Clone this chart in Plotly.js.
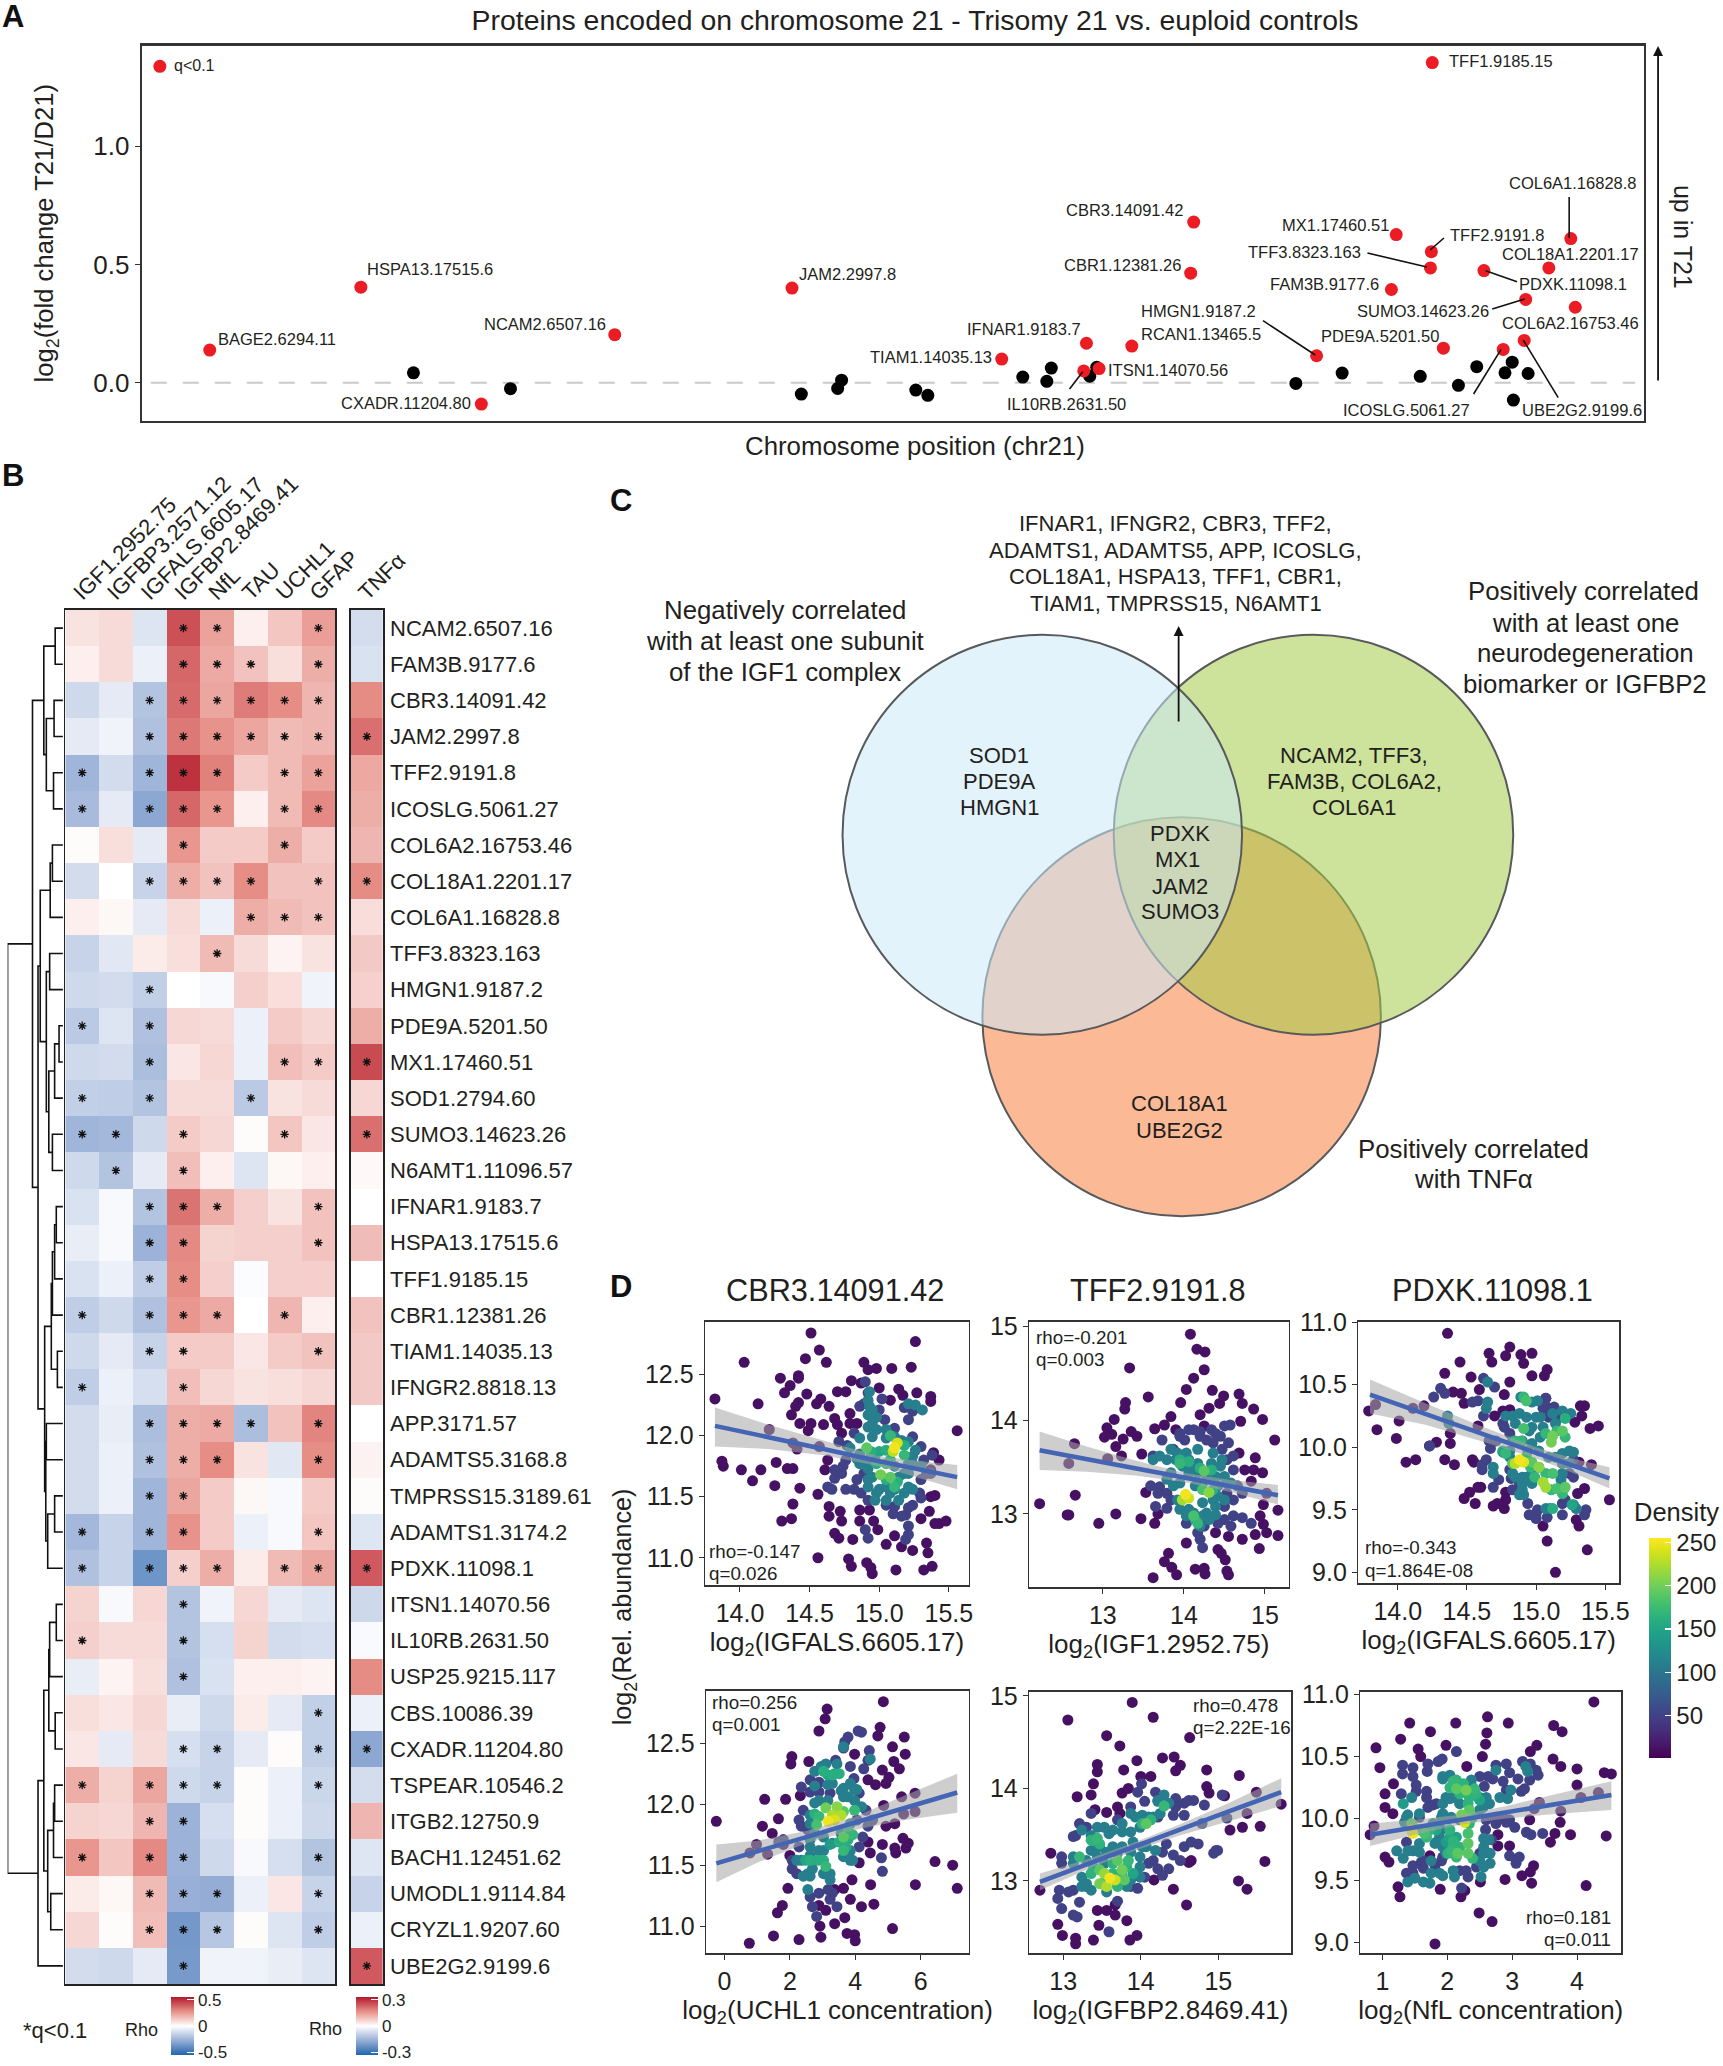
<!DOCTYPE html>
<html><head><meta charset="utf-8">
<script src="https://cdn.plot.ly/plotly-3.0.1.min.js"></script>
<style>html,body{margin:0;padding:0;background:#fff}#c{width:1723px;height:2066px}</style>
</head><body><div id="c"></div>
<script>
const W=1723,H=2066,FONT='"Liberation Sans",Arial,sans-serif',INK='#231f20';

/* ---------- Panel A: chromosome 21 proteins ---------- */
const chrSigPos=[2.26,7.29,11.30,15.74,21.64,28.62,31.44,31.35,31.86,32.95,35.01,34.91,39.10,41.75,41.59,42.95,42.92,42.89,43.32,45.31,44.67,46.06,46.01,47.56,46.83,47.71];
const chrSigFc=[0.138,0.404,-0.09,0.203,0.40,0.10,0.167,0.05,0.06,0.155,0.679,0.463,0.114,0.626,0.394,1.353,0.554,0.485,0.146,0.141,0.474,0.352,0.179,0.609,0.485,0.319];
const chrNsPos=[9.04,12.27,21.95,23.29,23.16,25.76,26.16,29.32,30.27,30.12,31.78,31.55,38.41,39.95,42.55,43.82,44.43,45.37,45.61,46.14,45.65];
const chrNsFc=[0.042,-0.025,-0.048,0.011,-0.024,-0.031,-0.053,0.024,0.062,0.006,0.065,0.028,-0.003,0.041,0.027,-0.011,0.068,0.042,0.087,0.039,-0.073];
const chrLabels=[
['BAGE2.6294.11',216,339,'left'],['HSPA13.17515.6',365.6,269,'left'],['NCAM2.6507.16',609,324,'right'],['CXADR.11204.80',473.5,403,'right'],['JAM2.2997.8',798,274,'left'],
['TFF1.9185.15',1449,60.7,'left'],['COL6A1.16828.8',1509,183,'left'],['CBR3.14091.42',1186,210,'right'],['MX1.17460.51',1393,225,'right'],['TFF2.9191.8',1450,235,'left'],
['TFF3.8323.163',1365,252,'right'],['COL18A1.2201.17',1502,253.7,'left'],['CBR1.12381.26',1184,265,'right'],['PDXK.11098.1',1519,283.7,'left'],['FAM3B.9177.6',1383,284,'right'],
['HMGN1.9187.2',1259,311,'right'],['SUMO3.14623.26',1493,311,'right'],['IFNAR1.9183.7',1084,328.7,'right'],['RCAN1.13465.5',1140,334,'left'],['COL6A2.16753.46',1502,322.7,'left'],
['PDE9A.5201.50',1442.5,336,'right'],['TIAM1.14035.13',995,356.7,'right'],['ITSN1.14070.56',1107,370,'left'],['IL10RB.2631.50',1006,404,'left'],['ICOSLG.5061.27',1343,410,'left'],['UBE2G2.9199.6',1522,410,'left']];
const chrLeaders=[[1571,197,1571,238],[1445.6,238,1431.8,250],[1369,253,1428.5,267],[1487.4,270.7,1518.8,281.7],[1494,309,1526.5,299],[1264.5,320.7,1316.8,355],[1070.8,389,1084,371.7],[1475.3,394,1502.8,349.3],[1560,397.7,1525,340]];

/* ---------- Panel B: correlation heatmap ---------- */
const markers=['IGF1.2952.75','IGFBP3.2571.12','IGFALS.6605.17','IGFBP2.8469.41','NfL','TAU','UCHL1','GFAP'];
const proteins=['NCAM2.6507.16','FAM3B.9177.6','CBR3.14091.42','JAM2.2997.8','TFF2.9191.8','ICOSLG.5061.27','COL6A2.16753.46','COL18A1.2201.17','COL6A1.16828.8','TFF3.8323.163','HMGN1.9187.2','PDE9A.5201.50','MX1.17460.51','SOD1.2794.60','SUMO3.14623.26','N6AMT1.11096.57','IFNAR1.9183.7','HSPA13.17515.6','TFF1.9185.15','CBR1.12381.26','TIAM1.14035.13','IFNGR2.8818.13','APP.3171.57','ADAMTS5.3168.8','TMPRSS15.3189.61','ADAMTS1.3174.2','PDXK.11098.1','ITSN1.14070.56','IL10RB.2631.50','USP25.9215.117','CBS.10086.39','CXADR.11204.80','TSPEAR.10546.2','ITGB2.12750.9','BACH1.12451.62','UMODL1.9114.84','CRYZL1.9207.60','UBE2G2.9199.6'];
const rho=[
[.07,.09,-.09,.42,.23,.04,.14,.24],[.04,.09,-.05,.37,.21,.15,.08,.2],[-.13,-.07,-.2,.36,.22,.32,.28,.18],[-.07,-.04,-.21,.33,.27,.22,.17,.18],[-.25,-.12,-.25,.49,.31,.13,.17,.23],[-.23,-.07,-.3,.37,.26,.04,.17,.29],
[.01,.08,-.07,.26,.13,.13,.2,.13],[-.12,0,-.15,.2,.15,.28,.15,.15],[.04,.02,-.07,.09,-.05,.2,.17,.15],[-.15,-.08,.05,.08,.17,.09,.03,.07],[-.13,-.12,-.16,0,-.02,.12,.08,-.04],[-.18,-.09,-.21,.1,.09,-.05,.13,.1],
[-.13,-.12,-.22,.06,.1,-.05,.16,.13],[-.16,-.17,-.2,.09,.09,-.18,.07,.09],[-.25,-.24,-.13,.13,.1,.01,.14,.06],[-.13,-.2,-.07,.16,.04,-.09,.02,.04],[-.1,-.02,-.2,.34,.2,.12,.07,.15],[-.06,-.02,-.26,.29,.11,.12,.12,.15],
[-.1,-.05,-.17,.28,.12,-.01,.12,.12],[-.17,-.13,-.21,.26,.21,0,.18,.04],[-.13,-.07,-.15,.13,.13,.06,.13,.15],[-.17,-.05,-.11,.16,.1,.07,.08,.1],[-.12,-.06,-.22,.2,.21,-.22,.15,.3],[-.12,-.05,-.21,.2,.28,.07,-.08,.28],
[-.12,-.05,-.25,.22,.13,.02,-.02,.13],[-.24,-.15,-.25,.27,.13,-.05,-.02,.14],[-.21,-.15,-.37,.12,.2,.05,.17,.22],[.11,-.02,.1,-.2,-.04,.1,-.07,-.09],[.12,.09,.09,-.2,-.11,.11,-.12,-.11],[-.06,.03,.08,-.21,-.1,.04,.04,.03],
[.08,.06,.1,-.06,-.13,.05,-.07,-.16],[.06,-.07,.09,-.11,-.15,-.07,.01,-.16],[.2,.11,.22,-.13,-.15,.01,-.05,-.14],[.11,.1,.18,-.26,-.11,.01,-.05,-.13],[.26,.14,.29,-.26,-.13,-.02,-.11,-.2],[.05,.02,.17,-.27,-.28,-.05,.06,-.15],
[.1,.01,.16,-.36,-.19,.01,-.09,-.17],[-.12,-.13,-.07,-.35,-.04,-.04,-.06,-.09]];
const rhoTnf=[-.07,-.06,.17,.21,.13,.12,.11,.17,.05,.08,.07,.12,.26,.06,.21,.01,0,.1,0,.09,.08,.08,0,.02,.005,-.05,.24,-.08,-.01,.17,-.03,-.18,-.07,.11,-.05,-.09,-.03,.24];
const sigStars=['...**..*','...***.*','..******','..******','*.***.**','*.***.**','...*..*.','..****.*','.....***','....*...','..*.....','*.*.....','..*...**','*.*..*..','**.*..*.','.*.*....','..***..*','..**...*','..**....','*.***.*.','..**...*','*..*....','..****.*','..***..*','..**....','*.**...*','*.***.**','...*....','*..*....','...*....','.......*','...**..*','*.***..*','..**....','*.**...*','..***..*','..***..*','...*....'];
const tnfStars=[3,7,12,14,26,31,37];
// dendrogram: [height, left, right]; leaves are row indices
const dendroTree=[1,
 [.55,
  [.345,[.14,0,1],[.30,[.16,2,3],[.17,4,5]]],
  [.45,
   [.41,[.23,[.19,6,7],8],[.30,[.24,9,10],[.255,[.15,[.07,11,12],13],[.19,14,15]]]],
   [.33,[.21,[.19,[.15,[.12,16,17],18],19],[.10,20,21]],[.31,[.30,22,23],[.275,[.15,24,25],26]]]]],
 [.45,
  [.345,[.255,[.24,[.12,27,28],29],[.14,30,31]],[.275,[.17,[.15,32,33],34],[.22,35,36]]],
  37]];

/* ---------- Panel D: scatter points, as [density, [x,y, x,y, ...]] groups ---------- */
const cbr3Points=[
[12,[14.51,12.84,15.26,12.77,14.57,12.70,14.03,12.60,14.47,12.63,14.62,12.60,14.89,12.60,14.98,12.55,15.09,12.55,15.23,12.56,14.92,12.54,14.29,12.47,14.42,12.49,14.42,12.47,14.80,12.45,14.87,12.43,14.36,12.41,14.32,12.35,13.82,12.30,14.13,12.26,14.48,12.34,14.70,12.36,14.76,12.36,15.27,12.35,15.00,12.39,15.14,12.38,15.37,12.32,15.37,12.28,15.08,12.29,15.17,12.33,14.42,12.27,14.58,12.30,14.55,12.26,14.64,12.24,14.40,12.24,14.37,12.17,14.43,12.10,14.51,12.10,14.49,12.04,14.60,12.09,14.70,12.09,14.68,12.14,14.79,12.18,14.84,12.10,14.79,12.10,14.73,12.02,15.56,12.04,14.21,12.05,14.38,11.94,14.41,11.89,14.57,11.91,13.87,11.79,13.88,11.75,14.01,11.72,14.15,11.72,14.26,11.78,14.34,11.73,14.38,11.73,14.09,11.63,14.25,11.59,14.43,11.57,14.61,11.72,14.63,11.80,14.56,11.52,14.38,11.44,14.30,11.30,14.37,11.32,14.64,11.42,14.64,11.34,14.72,11.38,14.73,11.30,14.86,11.39,14.93,11.39,14.86,11.30,14.96,11.30,14.99,11.23,14.68,11.20,14.71,11.16,14.81,11.15,14.56,11.00,14.78,10.99,14.80,10.93,14.91,10.96,14.94,10.92,14.95,10.87,15.05,11.11,15.11,11.18,15.16,11.09,15.24,11.06,15.12,10.90,15.32,10.90,15.38,10.93,15.35,11.04,15.34,11.12,15.30,11.32,15.36,11.38,15.40,11.28,15.43,11.28,15.48,11.30,15.37,11.50,15.40,11.51,15.39,11.86,15.43,11.80,15.37,11.72]],
[50,[14.90,12.44,14.92,12.35,14.89,12.26,14.86,12.24,15.02,12.30,15.0,12.21,15.04,12.13,15.11,12.06,15.21,12.13,15.24,12.2,15.18,12.23,14.71,11.95,14.68,11.65,14.63,11.58,14.66,11.56,14.73,11.69,14.82,11.56,14.76,11.56,14.90,11.23,14.92,11.16,15.19,11.35,15.21,11.26,15.21,11.19,15.19,11.15,15.11,11.42,15.05,11.43,15.24,11.43,15.30,11.64,15.37,11.69,15.38,11.84,15.30,11.91,15.24,11.99,14.82,12.02,14.77,11.92,14.76,11.80,14.68,11.72,14.74,11.75,14.89,11.69,14.84,11.64,15.32,11.80,15.34,11.69,15.29,11.53,15.30,11.49,15.21,11.41,15.10,11.36,15.16,11.34,14.87,11.53,14.92,11.47]],
[110,[15.31,12.21,15.26,12.25,15.21,12.26,14.93,12.36,14.92,12.29,14.93,12.24,14.92,12.17,14.95,12.10,14.98,12.05,14.86,11.98,14.95,11.99,15.05,11.98,15.21,11.95,15.26,11.88,14.79,11.90,14.86,11.77,14.92,11.73,14.97,11.80,15.24,11.77,15.30,11.75,15.18,11.69,14.92,11.58,14.98,11.53,15.05,11.47,15.18,11.53,15.24,11.56,15.11,11.56,14.98,12.15,14.95,12.21,14.92,12.07,15.05,12.05,15.11,11.99,15.16,11.96,15.24,11.83,15.21,11.77,15.11,11.75,14.92,11.80,14.86,11.85,14.84,11.81,14.95,11.66,15.0,11.56,15.08,11.53,15.14,11.47,15.21,11.58,14.92,11.64,14.97,11.47,15.05,11.58,15.14,11.66,15.21,11.69]],
[150,[15.0,11.87]],[160,[15.05,11.88,14.98,11.77,15.08,11.80,15.05,11.64,15.13,11.62,14.94,11.87,15.18,11.92]],[170,[15.08,12.0,15.11,11.58,15.05,11.77,15.18,11.84]],[190,[14.91,11.90,15.08,11.66]],[200,[15.01,11.68]],[230,[15.10,11.87]],[240,[15.13,11.94]],[250,[15.11,11.90]]];
const tff2Points=[
[12,[14.08,14.92,14.16,14.76,14.26,14.73,14.25,14.54,14.12,14.45,13.33,14.56,13.56,14.25,14.03,14.33,14.35,14.32,13.96,14.19,14.49,14.26,14.44,14.18,14.68,14.28,14.72,14.18,14.86,14.12,14.97,14.01,14.70,13.99,15.12,13.79,13.28,14.19,13.27,14.12,13.14,14.01,13.05,13.92,13.02,13.82,13.11,13.85,13.25,13.80,13.35,13.88,13.42,13.83,13.16,13.72,12.65,13.75,13.23,13.62,13.06,13.59,12.58,13.54,13.48,13.64,13.64,13.91,13.76,13.95,13.84,14.04,13.90,13.90,14.20,14.06,14.31,14.13,14.25,13.94,12.22,13.11,12.56,12.99,12.58,12.99,12.66,13.20,12.95,12.90,13.16,13.00,13.47,12.95,13.53,13.23,13.64,12.90,13.68,13.00,14.88,13.60,14.68,13.65,14.75,13.47,14.86,13.47,14.97,13.44,14.83,13.35,15.02,13.22,14.98,13.10,15.16,13.04,14.94,12.98,14.98,12.89,15.02,12.80,14.88,12.78,15.16,12.77,14.72,12.73,14.55,12.76,14.93,12.63,14.03,12.69,14.42,12.62,14.46,12.58,14.51,12.51,13.81,12.58,13.76,12.49,13.85,12.43,13.91,12.35,13.62,12.32,14.14,12.41,14.25,12.42,14.26,12.36,14.53,12.39,14.55,12.35,14.39,12.80]],
[50,[13.59,13.30,13.70,13.29,13.65,13.08,13.79,13.06,14.03,12.90,14.20,12.73,14.23,12.64,14.61,12.98,14.72,12.96,14.83,12.90,14.58,12.87,14.61,13.47,14.55,13.76,14.50,13.94,14.57,13.95,14.39,13.86,14.12,13.90,14.20,13.88,14.01,13.79,13.73,13.79,13.87,13.69,13.62,13.62,14.36,13.76,14.47,13.69,14.53,13.22,14.72,13.22,14.50,12.94,14.42,12.90,13.95,13.86,14.06,13.90,14.34,13.90,14.45,13.83,14.61,13.62,14.53,13.58,13.68,13.22,13.79,13.22,13.84,13.15,14.66,13.30,14.50,13.08,14.61,13.15,13.95,13.83,14.20,13.83,14.28,13.79,14.17,12.80,14.25,12.87]],
[110,[13.62,13.58,13.70,13.62,13.84,13.69,13.90,13.58,14.01,13.58,14.09,13.51,14.17,13.54,14.34,13.54,14.45,13.51,14.50,13.40,14.58,13.33,14.39,13.40,14.06,13.44,13.84,13.44,13.79,13.37,14.14,13.30,13.92,13.15,14.23,13.12,14.39,13.08,14.50,13.15,14.12,13.01,14.28,13.01,14.39,12.99,14.20,12.87,14.06,13.05,13.79,13.58,13.92,13.65,14.03,13.65,14.17,13.69,14.36,13.65,14.47,13.58,14.06,13.58,13.98,13.51,14.17,13.44,14.28,13.37,14.42,13.30,14.53,13.33,14.23,13.33,13.95,13.33,13.87,13.30,14.42,13.19,14.36,13.15,13.95,13.05,14.03,12.98,14.23,12.98,14.31,12.94]],
[160,[14.06,13.56,14.20,13.49,13.95,13.58,14.34,13.47,14.36,13.26,14.14,12.94]],[170,[14.17,12.90,13.95,13.54]],[180,[14.12,12.98,14.23,13.26]],[190,[14.25,13.46]],[210,[14.31,13.23]],[220,[13.98,13.15]],[235,[14.06,13.17]],[250,[14.02,13.21]]];
const pdxkPoints=[
[12,[14.36,10.91,14.81,10.80,14.66,10.75,14.78,10.73,14.89,10.74,14.97,10.75,14.68,10.68,14.45,10.68,14.91,10.67,15.08,10.62,15.06,10.57,14.34,10.59,14.53,10.56,14.97,10.57,14.81,10.52,14.59,10.46,14.77,10.42,15.07,10.39,14.19,10.33,14.11,10.31,13.79,10.29,13.84,10.34,14.01,10.21,13.85,10.14,13.99,10.07,14.06,9.88,14.13,9.90,14.34,9.90,14.41,9.86,14.38,10.03,14.38,10.11,14.28,10.04,14.23,10.01,14.46,10.43,14.48,10.35,14.40,10.44,14.58,10.17,14.70,10.25,14.76,10.29,14.81,10.30,14.54,9.90,14.55,9.88,14.60,9.68,14.58,9.68,14.52,9.64,14.48,9.59,14.56,9.55,14.69,9.53,14.77,9.51,14.78,9.58,14.78,9.64,14.72,9.55,15.05,9.37,15.08,9.25,15.14,9.00,15.37,9.18,15.31,9.37,15.29,9.42,15.53,9.58,15.30,9.63,15.35,9.67,15.40,9.86,15.31,9.88,15.39,10.15,15.45,10.17,15.33,10.25,15.32,10.33,15.35,10.33,15.28,10.20]],
[50,[14.26,10.40,14.31,10.47,14.34,10.43,14.58,10.37,14.62,10.55,14.70,10.48,14.54,10.36,14.62,10.25,14.76,10.19,14.23,10.01,14.67,9.99,14.61,9.86,14.69,9.68,14.82,9.75,14.95,9.46,15.0,9.47,15.0,9.43,15.08,9.44,15.19,9.46,15.35,9.46,15.36,9.50,15.19,9.55,14.88,9.71,15.07,10.39,15.09,10.31,15.05,10.31,15.09,10.24,15.27,9.90,15.27,9.76,14.66,10.05,14.71,10.05,14.81,10.11,14.77,10.16,14.64,9.90,14.61,9.82,14.81,9.82,14.73,9.74,14.83,9.66,14.94,9.55,15.13,10.32,15.17,10.24,15.24,9.79,15.21,9.58,15.01,9.50]],
[110,[14.36,10.25,14.37,10.19,14.65,10.52,14.65,10.36,14.64,10.31,14.69,9.84,14.69,9.79,14.76,9.96,14.83,10.25,14.85,10.19,14.89,10.40,14.97,10.36,15.01,10.37,15.0,10.24,14.97,10.16,15.03,10.08,14.97,10.03,14.90,10.05,15.19,10.29,15.25,10.27,15.24,9.97,15.27,9.96,15.19,9.79,14.90,9.76,14.88,9.62,14.91,9.62,15.27,9.54,15.29,9.51,15.10,9.51,15.07,9.51,15.19,9.87,15.14,9.92,14.81,9.92,14.93,9.76,14.85,9.76,14.78,10.25,14.88,10.27,14.93,10.24,14.95,10.13,15.03,10.24,15.12,10.27,15.14,10.19,15.05,10.16,14.83,10.05,14.81,9.97,14.94,9.97,15.02,9.97,15.09,9.92,15.19,9.95,14.97,9.79,14.83,9.79,14.90,9.71,14.97,9.71,15.18,9.74,15.02,9.84,14.90,9.66,15.24,9.87]],
[150,[14.76,9.97,15.26,9.54]],[160,[15.21,10.23,15.12,9.51]],[170,[14.91,10.40,14.89,10.05,14.85,10.05,15.07,10.11,15.15,10.13,15.21,10.08,14.93,9.92,14.96,9.84,15.07,9.79,14.99,9.76,15.11,9.66,15.19,9.63,14.78,9.95]],[180,[14.93,10.37,14.91,10.15,15.12,9.79,15.15,9.67]],[190,[15.19,10.13,14.97,9.88,15.21,9.68,14.83,9.87]],[200,[15.12,10.09,15.11,10.04]],[210,[15.02,9.84]],[220,[15.05,9.72,15.07,9.68]],[230,[14.85,9.87]],[245,[14.91,9.88]],[250,[14.88,9.90]]];
const uchl1Points=[
[12,[4.86,12.84,3.14,12.78,3.08,12.70,2.89,12.60,4.76,12.63,4.69,12.56,5.50,12.55,5.14,12.47,5.53,12.41,2.06,12.39,2.03,12.33,2.58,12.35,3.98,12.41,5.18,12.35,5.35,12.29,4.83,12.28,5.03,12.22,4.39,12.20,4.62,12.16,4.94,12.17,1.23,12.04,1.87,12.04,2.32,12.07,5.83,12.09,5.42,12.06,-0.25,11.86,1.16,11.82,1.65,11.88,5.83,11.94,5.48,11.92,4.87,11.99,.98,11.67,1.46,11.76,.78,11.60,1.32,11.59,1.80,11.67,2.0,11.58,5.21,11.84,4.94,11.82,4.83,11.67,5.21,11.64,5.24,11.60,5.46,11.72,5.62,11.68,5.55,11.64,4.39,11.69,4.46,11.60,4.12,11.52,6.44,11.53,6.98,11.50,5.84,11.34,7.12,11.31,4.47,11.34,3.90,11.38,1.94,11.31,1.77,11.17,1.62,11.11,3.85,11.22,4.19,11.16,4.57,11.18,3.64,11.31,3.37,11.30,3.10,11.13,2.89,11.17,3.37,11.02,3.68,11.07,2.92,11.0,2.95,10.91,1.50,10.92,.76,10.86,2.28,10.89,3.75,10.94,3.98,10.93,4.0,10.88,5.14,10.98]],
[50,[3.78,12.55,4.09,12.60,4.19,12.59,4.43,12.44,4.39,12.36,4.26,12.29,3.68,12.51,3.64,12.46,3.40,12.36,3.85,12.31,3.96,12.21,2.35,12.14,2.62,12.10,2.89,12.10,3.23,12.09,2.41,11.95,2.28,11.87,2.35,11.82,2.07,11.47,2.21,11.43,2.69,11.16,2.82,11.08,2.89,11.27,3.44,11.16,3.30,11.27,4.80,11.56,4.83,11.45,4.39,11.82,4.53,11.87,4.05,11.87,1.66,11.69,1.80,11.71,2.62,12.20,2.89,12.18,2.07,11.54,2.28,11.65,2.55,11.79,4.23,11.73,4.33,11.95,4.12,12.09,4.12,11.65,3.17,11.30,3.23,11.22,2.62,11.24]],
[110,[3.10,12.33,3.44,12.33,2.76,12.27,3.16,12.16,3.64,12.13,4.05,12.12,3.98,12.03,3.64,12.06,2.76,12.01,2.62,11.91,3.85,11.84,2.62,11.71,3.03,11.62,2.62,11.65,2.35,11.54,2.41,11.41,2.55,11.30,3.23,11.38,2.69,11.47,3.57,11.76,3.85,11.62,3.92,11.54,4.46,12.37,3.64,12.47,2.76,12.15,2.96,12.31,3.30,12.17,3.85,12.17,3.57,12.11,2.89,12.03,3.16,12.03,3.78,12.06,3.98,12.12,4.19,11.98,2.62,11.84,2.76,11.76,3.03,11.73,3.30,11.68,2.62,11.58,2.89,11.62,3.64,11.57,3.85,11.54,3.03,11.43,3.23,11.43,2.55,11.43,2.21,11.54,2.62,11.41]],
[140,[3.23,11.67]],[150,[3.16,12.24,3.37,12.25,2.48,11.54]],[160,[2.86,11.54,3.03,12.27,3.51,12.25,3.30,12.24,2.62,11.54,3.03,11.54,3.78,11.71,3.51,11.69,3.78,11.79,3.71,11.65,2.76,11.92]],[170,[2.89,11.90,3.98,11.95,3.92,11.75,3.64,11.62,3.10,11.49]],[180,[2.82,11.83]],[190,[3.64,11.94,3.64,11.73]],[200,[3.10,11.97]],[210,[3.44,11.98]],[225,[3.57,11.91,3.30,11.91]],[240,[3.37,11.87]],[250,[3.17,11.86]]];
const igfbp2Points=[
[12,[13.89,14.93,13.06,14.74,14.16,14.77,13.56,14.57,13.73,14.46,14.63,14.55,13.44,14.26,13.44,14.18,13.95,14.30,14.28,14.33,14.43,14.34,14.51,14.25,14.45,14.19,13.78,14.20,14.85,14.20,15.27,14.14,14.13,14.13,14.0,14.13,13.39,14.05,13.18,13.91,13.36,13.93,14.85,14.02,14.88,13.95,13.76,13.95,13.84,14.0,15.08,13.92,15.49,13.96,15.81,13.83,15.37,13.73,15.54,13.59,15.31,13.58,15.15,13.55,13.41,13.77,13.56,13.74,13.70,13.80,13.73,13.73,15.60,13.21,15.26,13.0,15.37,12.91,14.42,12.91,14.59,12.74,14.17,13.01,12.70,12.90,12.84,13.30,12.93,12.53,12.99,12.41,13.16,12.38,13.16,12.32,13.39,12.36,13.44,12.68,13.56,12.68,13.67,12.74,13.67,12.63,13.82,12.57,13.46,12.52,13.86,12.36,13.95,12.41,14.65,13.22,14.62,13.2]],
[50,[14.01,14.05,13.96,13.96,14.05,13.86,14.19,13.96,13.36,13.73,14.99,13.33,14.97,13.33,14.94,13.30,14.56,13.37,14.74,13.40,14.65,13.42,14.33,13.40,14.42,13.28,14.51,13.22,14.36,13.13,14.22,13.13,14.28,13.06,13.96,12.92,13.70,12.78,13.59,12.45,12.95,12.9,12.93,12.81,12.98,12.70,13.13,12.63,13.18,12.61,13.21,12.77,13.07,12.88,12.98,13.26,12.98,13.19,13.21,13.62,13.16,13.49,14.62,13.87,14.68,13.87,14.82,13.82,15.05,13.93,14.45,13.89,14.42,13.71,14.56,13.71,14.79,13.62,15.11,13.68,13.13,13.48,13.30,13.58,13.30,12.94,13.13,12.90,14.22,13.69,14.45,13.80,14.56,13.84,14.10,13.19,14.05,13.04,13.87,12.94,14.28,13.31,14.16,13.22,13.70,13.66,13.87,13.80]],
[110,[14.30,13.93,14.22,13.86,14.36,13.84,14.16,13.69,13.87,13.73,14.02,13.71,13.87,13.53,13.76,13.53,13.59,13.51,13.36,13.49,13.24,13.55,14.07,13.37,14.19,13.33,13.90,13.42,13.99,13.26,13.76,13.37,13.56,13.31,13.36,13.33,13.30,13.22,13.13,13.26,13.24,12.94,13.36,12.90,13.99,13.04,13.82,12.94,13.56,12.88,13.44,13.58,13.53,13.58,13.64,13.55,13.76,13.62,13.99,13.58,13.93,13.69,14.10,13.69,14.25,13.73,14.22,13.87,13.47,13.37,13.64,13.37,13.87,13.31,14.02,13.37,13.13,13.19,13.24,13.04,13.30,12.97,13.87,13.01,13.99,13.15,13.70,13.30,13.44,13.26,13.53,13.19,13.41,13.33]],
[150,[13.39,13.15,13.90,13.08]],[165,[13.36,13.44,13.47,13.40,13.64,13.19,13.82,13.15,14.02,13.62,14.13,13.66,13.36,13.08,13.53,12.99,13.70,12.94,13.64,13.08,13.76,13.06]],[170,[14.30,13.81,13.44,13.46,13.21,13.26,13.84,13.22]],[190,[14.07,13.62,13.70,13.22,13.47,13.12,13.79,13.01]],[200,[13.47,12.97,13.76,13.12]],[215,[13.53,13.08]],[225,[13.56,12.94]],[235,[13.67,13.01]],[250,[13.60,13.03]]];
const nflPoints=[
[12,[4.26,10.94,2.62,10.82,1.42,10.77,2.13,10.77,2.94,10.77,1.74,10.70,2.61,10.69,3.64,10.75,3.77,10.70,1.28,10.64,2.59,10.60,.90,10.57,1.98,10.59,1.55,10.56,1.59,10.50,2.54,10.50,3.38,10.59,3.28,10.54,3.63,10.48,.96,10.41,2.30,10.42,3.75,10.42,4.0,10.40,4.42,10.37,4.53,10.36,4.0,10.27,1.17,10.28,1.04,10.20,1.04,10.09,1.16,10.04,.87,9.94,.81,9.87,4.33,10.21,4.06,10.17,3.75,10.06,3.42,10.13,3.34,10.08,3.27,9.99,3.74,9.97,3.90,9.87,4.45,9.86,3.66,9.88,3.59,9.81,2.78,9.87,2.78,9.78,2.96,9.78,3.33,9.62,3.28,9.57,3.15,9.54,2.89,9.51,3.30,9.48,4.14,9.46,2.51,9.49,1.04,9.69,1.10,9.65,1.24,9.45,1.27,9.37,1.89,9.43,2.21,9.37,2.27,9.42,2.49,9.24,2.69,9.17,1.81,8.99,1.73,9.70]],
[50,[1.31,10.43,1.47,10.41,1.70,10.44,1.69,10.38,1.31,10.36,1.47,10.34,1.52,10.27,1.68,10.22,1.68,10.17,1.29,10.20,1.86,10.46,1.92,10.48,2.14,10.54,2.75,10.43,2.91,10.44,2.96,10.37,3.09,10.32,2.70,10.32,2.50,10.34,2.57,10.26,2.86,10.30,3.14,10.22,3.19,10.24,3.40,10.35,3.27,10.31,3.16,10.46,3.28,10.44,3.37,10.39,3.04,9.93,2.96,9.99,3.22,9.89,3.29,9.87,3.47,9.88,2.59,9.91,3.11,9.69,2.96,9.70,3.06,9.64,2.19,9.58,2.32,9.53,2.22,9.44,1.60,9.65,1.47,9.62,1.81,9.62,1.91,9.66,1.57,10.01,1.78,10.11,2.75,10.01,2.91,9.97,1.52,10.22,1.70,10.09,1.83,10.12,2.60,9.99,2.75,9.96,2.68,9.83,1.37,9.81,1.37,9.56,1.47,9.56,1.63,9.60,1.63,9.66,1.93,9.69,2.29,9.58,2.45,9.61,2.50,9.72,2.86,10.01,2.91,10.23,2.63,10.34]],
[110,[3.21,10.42,3.24,10.38,1.93,10.32,2.75,10.39,2.81,10.17,2.93,10.16,2.98,10.23,2.65,10.12,2.55,10.09,2.50,10.17,2.37,10.31,1.45,10.17,1.39,10.03,1.57,10.04,1.22,9.74,1.32,9.68,1.39,9.74,1.57,9.73,1.81,9.80,1.39,9.49,1.50,9.52,1.63,9.49,1.73,9.48,1.75,9.56,1.93,9.54,2.11,9.53,2.56,9.84,2.64,9.83,2.56,9.72,2.66,9.72,2.56,9.61,2.66,9.64,2.52,9.53,1.93,10.04,1.91,9.91,2.04,10.16,2.19,10.12,1.93,10.34,2.04,10.35,2.37,10.27,2.50,10.15,2.60,10.17,1.98,10.17,2.09,10.17,1.93,10.12,1.91,10.01,1.98,10.01,2.06,10.01,2.19,9.99,2.50,10.07,1.78,9.96,1.88,9.85,1.83,9.81,1.93,9.77,1.98,9.72,2.09,9.58,1.88,9.56,1.75,9.66,1.57,9.80,1.47,9.74,1.37,10.01,1.34,9.97,2.50,9.66,2.56,9.77]],
[140,[1.32,10.12,1.98,9.81]],[150,[2.04,9.85,2.14,9.85,1.83,9.91,2.50,10.15]],[165,[2.04,10.25,2.14,10.31,2.25,10.28,2.19,10.20,2.34,10.17,2.44,10.20,2.32,10.12,2.39,10.01,2.04,9.91,2.09,9.82,2.09,9.77,2.01,9.72,2.19,9.77,1.55,9.91,1.73,9.91,1.68,9.89,2.34,9.96]],[170,[2.09,10.30,2.42,10.24,2.06,9.74,2.14,9.69,2.39,9.68,1.68,9.85]],[180,[2.32,9.88,1.65,9.88]],[190,[2.14,10.24,2.34,10.07,2.32,9.80,2.16,9.72,2.32,9.72,1.45,9.96]],[200,[2.29,10.23,2.22,10.03]],[235,[1.45,9.91]],[240,[2.27,9.97]],[250,[1.47,9.88]]];

const fitX=[[13.82,14.2,14.6,15.0,15.3,15.56],[12.22,12.8,13.4,14.0,14.6,15.16],[13.8,14.2,14.6,15.0,15.3,15.53],[-.25,1,2.5,4,5.5,7.12],[12.7,13.3,13.9,14.5,15.1,15.81],[.81,1.5,2.2,2.9,3.7,4.53]];
const fitMid=[[12.08,11.99,11.89,11.79,11.72,11.66],[13.68,13.585,13.49,13.39,13.29,13.20],[10.42,10.265,10.11,9.96,9.84,9.75],[11.515,11.61,11.73,11.85,11.97,12.096],[12.99,13.18,13.36,13.55,13.74,13.96],[9.87,9.93,9.99,10.05,10.12,10.19]];
const fitUp=[[12.23,12.09,11.96,11.83,11.79,11.76],[13.88,13.72,13.57,13.44,13.36,13.31],[10.54,10.35,10.17,10.00,9.90,9.84],[11.67,11.70,11.78,11.90,12.07,12.25],[13.08,13.23,13.41,13.61,13.83,14.11],[9.96,9.99,10.03,10.10,10.20,10.30]];
const fitLo=[[11.91,11.89,11.84,11.75,11.65,11.56],[13.47,13.45,13.41,13.34,13.23,13.10],[10.27,10.18,10.05,9.91,9.78,9.67],[11.36,11.52,11.68,11.79,11.87,11.93],[12.90,13.12,13.32,13.49,13.64,13.81],[9.78,9.87,9.95,10.00,10.04,10.07]];
const scatterTitles=['CBR3.14091.42','TFF2.9191.8','PDXK.11098.1'];
const scatterXNames=['log<sub>2</sub>(IGFALS.6605.17)','log<sub>2</sub>(IGF1.2952.75)','log<sub>2</sub>(IGFALS.6605.17)','log<sub>2</sub>(UCHL1 concentration)','log<sub>2</sub>(IGFBP2.8469.41)','log<sub>2</sub>(NfL concentration)'];
const scatterXTicks=[[14,14.5,15,15.5],[13,14,15],[14,14.5,15,15.5],[0,2,4,6],[13,14,15],[1,2,3,4]];
const scatterYTicks=[[11,11.5,12,12.5],[13,14,15],[9,9.5,10,10.5,11],[11,11.5,12,12.5],[13,14,15],[9,9.5,10,10.5,11]];
const scatterStats=[['rho=-0.147','q=0.026'],['rho=-0.201','q=0.003'],['rho=-0.343','q=1.864E-08'],['rho=0.256','q=0.001'],['rho=0.478','q=2.22E-16'],['rho=0.181','q=0.011']];
const scatterSets=[cbr3Points,tff2Points,pdxkPoints,uchl1Points,igfbp2Points,nflPoints];
// layout of each small panel
const frames=[[705,969,1322,1585,[13.75,15.644],[10.777,12.93]],[1029.5,1289,1322,1587,[12.093,15.29],[12.22,15.05]],[1359,1620,1322,1583,[13.716,15.60],[8.915,11.0]],
[706,969,1691,1953,[-.56,7.476],[10.78,12.928]],[1029.5,1292,1692,1953,[12.563,15.943],[12.22,15.043]],[1361,1622,1692,1953,[.66,4.68],[8.917,11.02]]];
const statPos=[[707,1551,1573,'left'],[1034,1337,1359,'left'],[1364,1547,1570,'left'],[710,1702,1724,'left'],[1191.5,1705,1727,'left'],[1614,1917,1939,'right']];

/* ---------- helpers ---------- */
const px=x=>x/W, py=y=>1-y/H;
const domX=(a,b)=>[a/W,b/W], domY=(t,b)=>[1-b/H,1-t/H];
const ann=[],shapes=[],traces=[];
function T(text,x,y,size,anchor='center',extra={}){ann.push(Object.assign({text,x:px(x),y:py(y),xref:'paper',yref:'paper',xanchor:anchor,yanchor:'middle',showarrow:false,font:{family:FONT,size,color:INK}},extra));}
function L(x0,y0,x1,y1,color='#000',width=1.6){shapes.push({type:'line',xref:'paper',yref:'paper',x0:px(x0),y0:py(y0),x1:px(x1),y1:py(y1),line:{color,width}});}
function Arrow(x,yHead,yTail){ann.push({text:'',x:px(x),y:py(yHead),xref:'paper',yref:'paper',ax:0,ay:yTail-yHead,axref:'pixel',ayref:'pixel',showarrow:true,arrowhead:2,arrowsize:1.1,arrowwidth:1.8,arrowcolor:'#111',standoff:0,startstandoff:0});}
const base={showgrid:false,zeroline:false,showline:true,mirror:true,linecolor:'#333',linewidth:1.6,ticks:'outside',ticklen:5,tickcolor:'#333',tickfont:{family:FONT,size:25,color:INK}};
const layout={width:W,height:H,margin:{l:0,r:0,t:0,b:0},paper_bgcolor:'#fff',plot_bgcolor:'#fff',showlegend:false,font:{family:FONT,color:INK},
 title:{text:'Proteins encoded on chromosome 21 - Trisomy 21 vs. euploid controls',x:915/W,xanchor:'center',y:1-20/H,yanchor:'middle',font:{family:FONT,size:28.4,color:INK}},
 coloraxis:{cmin:1,cmax:255,colorscale:'Viridis',colorbar:{x:px(1651),xanchor:'left',xpad:0,y:py(1538),yanchor:'top',ypad:0,len:220,lenmode:'pixels',thickness:21.5,thicknessmode:'pixels',outlinewidth:0,ticks:'inside',ticklen:6,tickcolor:'#fff',tickwidth:1.2,tickvals:[50,100,150,200,250],tickfont:{family:FONT,size:24,color:INK}}}};

/* ---------- Panel A ---------- */
layout.xaxis={...base,domain:domX(142,1646),range:[0,50],ticks:'',showticklabels:false,linewidth:2.2};
layout.yaxis={...base,domain:domY(45.5,421),range:[-0.1616,1.425],tickvals:[0,.5,1],tickformat:'.1f',tickfont:{family:FONT,size:26,color:INK},linewidth:2.2,title:{text:'log<sub>2</sub>(fold change T21/D21)',standoff:32,font:{family:FONT,size:25.6,color:INK}}};
traces.push({type:'scatter',mode:'lines',x:[0.3,49.7],y:[0,0],line:{color:'#c9c9c9',width:2.2,dash:'16px,16px'},xaxis:'x',yaxis:'y',hoverinfo:'skip'});
traces.push({type:'scatter',mode:'markers',x:chrNsPos,y:chrNsFc,marker:{color:'#000',size:13},xaxis:'x',yaxis:'y',name:'q>=0.1'});
traces.push({type:'scatter',mode:'markers',x:chrSigPos,y:chrSigFc,marker:{color:'#ec1c24',size:13},xaxis:'x',yaxis:'y',name:'q<0.1'});
traces.push({type:'scatter',mode:'markers',x:[0.6],y:[1.337],marker:{color:'#ec1c24',size:13},xaxis:'x',yaxis:'y',name:'legend'});
T('q&lt;0.1',172,66,16,'left');
T('Chromosome position (chr21)',915.6,446,25.8);
chrLabels.forEach(l=>T(l[0],l[1],l[2],16.5,l[3]));
chrLeaders.forEach(l=>L(l[0],l[1],l[2],l[3],'#111',1.6));
Arrow(1660,46,382);
T('up in T21',1685,237,25,'center',{textangle:90});

/* ---------- Panel B ---------- */
const heatScale=[[0,'#2166ac'],[.25,'#97aed6'],[.5,'#ffffff'],[.75,'#e79088'],[1,'#b2182b']];
const rowIdx=proteins.map((_,i)=>i), colIdx=markers.map((_,i)=>i);
layout.xaxis2={...base,domain:domX(65.4,335.6),range:[-.5,7.5],side:'top',tickvals:colIdx.map(i=>i-.22),ticktext:markers,tickangle:-45,ticks:'',ticklabelstandoff:-5,anchor:'y2',linecolor:'#222',tickfont:{family:FONT,size:22,color:INK}};
layout.yaxis2={...base,domain:domY(610,1984),range:[37.5,-.5],showticklabels:false,ticks:'',anchor:'x2',linecolor:'#222'};
layout.xaxis3={...base,domain:domX(351,383.5),range:[-.5,.5],side:'top',tickvals:[-.22],ticktext:['TNF\u03b1'],tickangle:-45,ticks:'',ticklabelstandoff:-5,anchor:'y3',linecolor:'#222',tickfont:{family:FONT,size:22,color:INK}};
layout.yaxis3={...base,domain:domY(610,1984),range:[37.5,-.5],side:'right',tickvals:rowIdx,ticktext:proteins,ticks:'',ticklabelstandoff:1,anchor:'x3',linecolor:'#222',tickfont:{family:FONT,size:22,color:INK}};
traces.push({type:'heatmap',z:rho,x:colIdx,y:rowIdx,zmin:-.55,zmax:.55,colorscale:heatScale,xaxis:'x2',yaxis:'y2',
 colorbar:{x:px(171),xanchor:'left',xpad:0,y:py(1997),yanchor:'top',ypad:0,len:58,lenmode:'pixels',thickness:23,outlinewidth:0,ticks:'inside',ticklen:7,tickcolor:'#fff',tickwidth:1.2,ticklabeloverflow:'allow',tickvals:[-.5,0,.5],ticktext:['-0.5','0','0.5'],tickfont:{family:FONT,size:17,color:INK}}});
traces.push({type:'heatmap',z:rhoTnf.map(v=>[v]),x:[0],y:rowIdx,zmin:-.33,zmax:.33,colorscale:heatScale,xaxis:'x3',yaxis:'y3',
 colorbar:{x:px(356),xanchor:'left',xpad:0,y:py(1997),yanchor:'top',ypad:0,len:58,lenmode:'pixels',thickness:22,outlinewidth:0,ticks:'inside',ticklen:7,tickcolor:'#fff',tickwidth:1.2,ticklabeloverflow:'allow',tickvals:[-.3,0,.3],ticktext:['-0.3','0','0.3'],tickfont:{family:FONT,size:17,color:INK}}});
const sx=[],sy=[];
sigStars.forEach((s,r)=>[...s].forEach((c,k)=>{if(c==='*'){sx.push(k);sy.push(r);}}));
const starMarker={symbol:'asterisk-open',size:7,color:'#111',line:{color:'#111',width:1.3}};
traces.push({type:'scatter',mode:'markers',x:sx,y:sy,marker:starMarker,xaxis:'x2',yaxis:'y2',name:'q<0.1'});
traces.push({type:'scatter',mode:'markers',x:tnfStars.map(()=>0),y:tnfStars,marker:starMarker,xaxis:'x3',yaxis:'y3',name:'q<0.1'});
// dendrogram, walked through the tree
const dx=[],dy=[];
function walk(n){ if(typeof n==='number') return [0,n];
 const a=walk(n[1]),b=walk(n[2]),h=n[0];
 dx.push(a[0],h,h,b[0],null); dy.push(a[1],a[1],b[1],b[1],null);
 return [h,(a[1]+b[1])/2]; }
walk(dendroTree);
layout.xaxis4={domain:domX(7.6,63),range:[1,0],visible:false,anchor:'y4'};
layout.yaxis4={domain:domY(610,1984),range:[37.5,-.5],visible:false,anchor:'x4'};
traces.push({type:'scatter',mode:'lines',x:dx,y:dy,line:{color:'#111',width:1.6},xaxis:'x4',yaxis:'y4',hoverinfo:'skip'});
T('*q&lt;0.1',55,2030,22);
T('Rho',142,2030,18);T('Rho',326,2029,18);

/* ---------- Panel C ---------- */
const vennCircles=[[1183,1016.7,199.5,'rgb(251,185,150)'],[1315,834.7,200,'rgba(164,202,71,.55)'],[1043.5,834.7,200,'rgba(204,233,248,.55)']];
vennCircles.forEach(c=>shapes.push({type:'circle',xref:'paper',yref:'paper',x0:px(c[0]-c[2]),x1:px(c[0]+c[2]),y0:py(c[1]+c[2]),y1:py(c[1]-c[2]),fillcolor:c[3],line:{color:'#58595b',width:2}}));
[['IFNAR1, IFNGR2, CBR3, TFF2,',1177,523.4],['ADAMTS1, ADAMTS5, APP, ICOSLG,',1177,550],['COL18A1, HSPA13, TFF1, CBR1,',1177,576],['TIAM1, TMPRSS15, N6AMT1',1177,603],
 ['SOD1',1000.5,755],['PDE9A',1000.5,781.6],['HMGN1',1000.5,808],['NCAM2, TFF3,',1356,755],['FAM3B, COL6A2,',1356,781.6],['COL6A1',1356,808],
 ['PDXK',1181.5,833.5],['MX1',1178.5,860],['JAM2',1181.5,886],['SUMO3',1181.5,912],['COL18A1',1181,1103],['UBE2G2',1181,1130]].forEach(t=>T(t[0],t[1],t[2],22));
[['Negatively correlated',786,610],['with at least one subunit',786,641],['of the IGF1 complex',786,671.6],['Positively correlated',1585,591],['with at least one',1587,622.5],['neurodegeneration',1587,653],['biomarker or IGFBP2',1587,684],['Positively correlated',1475,1148.7],['with TNF\u03b1',1475,1179]].forEach(t=>T(t[0],t[1],t[2],25.8));
Arrow(1180,626,723);

/* ---------- Panel D ---------- */
frames.forEach((f,i)=>{
 const n=5+i, xa='xaxis'+n, ya='yaxis'+n, xr='x'+n, yr='y'+n;
 const dec=scatterXTicks[i].some(v=>v%1)?'.1f':'d', decY=scatterYTicks[i].some(v=>v%1)?'.1f':'d';
 layout[xa]={...base,domain:domX(f[0]+1,f[1]+1),range:f[4],tickvals:scatterXTicks[i],tickformat:dec,anchor:yr,title:{text:scatterXNames[i],standoff:i<3?2:0,font:{family:FONT,size:26,color:INK}}};
 layout[ya]={...base,domain:domY(f[2],f[3]),range:f[5],tickvals:scatterYTicks[i],tickformat:decY,anchor:xr};
 const pts=[];
 scatterSets[i].forEach(([d,v])=>{for(let k=0;k<v.length;k+=2)pts.push([v[k],v[k+1],d]);});
 pts.sort((a,b)=>a[2]-b[2]);
 traces.push({type:'scatter',mode:'markers',x:pts.map(p=>p[0]),y:pts.map(p=>p[1]),marker:{size:11,color:pts.map(p=>p[2]),coloraxis:'coloraxis'},xaxis:xr,yaxis:yr,name:'points'});
 traces.push({type:'scatter',mode:'lines',x:fitX[i].concat(fitX[i].slice().reverse()),y:fitUp[i].concat(fitLo[i].slice().reverse()),fill:'toself',fillcolor:'rgba(165,165,165,.55)',line:{width:0},xaxis:xr,yaxis:yr,hoverinfo:'skip'});
 traces.push({type:'scatter',mode:'lines',x:fitX[i],y:fitMid[i],line:{color:'#4464b4',width:4.5},xaxis:xr,yaxis:yr,name:'fit'});
 const s=statPos[i];
 T(scatterStats[i][0],s[0]+1,s[1],18.8,s[3]);T(scatterStats[i][1],s[0]+1,s[2],18.8,s[3]);
});
scatterTitles.forEach((t,i)=>T(t,[836,1159,1494][i],1290.7,30.7));
T('log<sub>2</sub>(Rel. abundance)',625,1607,25.2,'center',{textangle:-90});
T('Density',1678,1512,25.5);
/* panel letters */
[['A',13,16],['B',13,475],['C',622,500],['D',622,1286]].forEach(t=>T(t[0],t[1],t[2],31,'center',{font:{family:FONT,size:31,color:'#111',weight:700}}));

layout.annotations=ann;layout.shapes=shapes;
Plotly.newPlot('c',traces,layout,{staticPlot:true,displayModeBar:false});
</script></body></html>
